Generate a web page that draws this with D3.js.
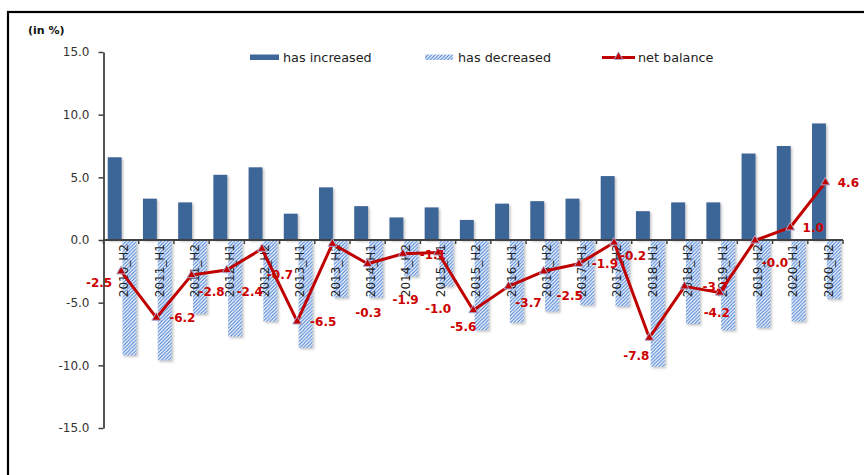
<!DOCTYPE html>
<html>
<head>
<meta charset="utf-8">
<script src="https://cdn.jsdelivr.net/npm/d3@7"></script>
<style>
  html, body { margin: 0; padding: 0; background: #fff; }
  svg { display: block; font-family: "DejaVu Sans", Verdana, sans-serif; }
</style>
</head>
<body>
<svg id="chart" width="864" height="475"></svg>
<script>
// ---- data ----
const categories = ["2010_H2","2011_H1","2011_H2","2012_H1","2012_H2","2013_H1","2013_H2",
  "2014_H1","2014_H2","2015_H1","2015_H2","2016_H1","2016_H2","2017_H1","2017_H2",
  "2018_H1","2018_H2","2019_H1","2019_H2","2020_H1","2020_H2"];
const hasIncreased = [6.6, 3.3, 3.0, 5.2, 5.8, 2.1, 4.2, 2.7, 1.8, 2.6, 1.6, 2.9, 3.1, 3.3, 5.1, 2.3, 3.0, 3.0, 6.9, 7.5, 9.3];
const hasDecreased = [-9.2, -9.6, -5.9, -7.7, -6.5, -8.6, -4.6, -4.6, -2.9, -3.7, -7.2, -6.6, -5.7, -5.2, -5.3, -10.1, -6.7, -7.2, -7.0, -6.5, -4.7];
const netBalance = [-2.5, -6.2, -2.8, -2.4, -0.7, -6.5, -0.3, -1.9, -1.1, -1.0, -5.6, -3.7, -2.5, -1.9, -0.2, -7.8, -3.7, -4.2, -0.04, 1.0, 4.6];
const yTicks = [-15, -10, -5, 0, 5, 10, 15];
const seriesNames = ["has increased", "has decreased", "net balance"];
const unitLabel = "(in %)";

// ---- layout (label nudges relative to each point, in px) ----
const labelNudge = [[-22,11],[26,0],[20,17],[23,22],[18,26],[26,0],[36,69],[38,36],[30,1],[0,56],
  [-10,16],[20,16],[26,24],[26,0],[19,13],[-13,18],[31,0],[-3,20],[20,22],[23,0],[23,0]];

const svg = d3.select("#chart");
const plotLeft = 103.5, plotRight = 843, plotTop = 52, plotBottom = 428;

const defs = svg.append("defs");
const pat = defs.append("pattern").attr("id", "hatch").attr("patternUnits", "userSpaceOnUse")
  .attr("width", 3.5).attr("height", 3.5);
pat.append("rect").attr("width", 3.5).attr("height", 3.5).attr("fill", "#ffffff");
pat.append("path").attr("d", "M-1,1 l2,-2 M0,3.5 l3.5,-3.5 M2.5,4.5 l2,-2")
  .attr("stroke", "#4f84d4").attr("stroke-width", 1.15);
const shadow = defs.append("filter").attr("id", "shadow").attr("x", "-20%").attr("y", "-20%")
  .attr("width", "150%").attr("height", "150%");
shadow.append("feDropShadow").attr("dx", 1.5).attr("dy", 1.5).attr("stdDeviation", 0.8)
  .attr("flood-color", "#777").attr("flood-opacity", 0.45);

// frame
svg.append("rect").attr("x", 8).attr("y", 12).attr("width", 900).attr("height", 500)
  .attr("fill", "none").attr("stroke", "#000").attr("stroke-width", 2.2);

const x = d3.scaleBand().domain(categories).range([plotLeft, plotRight]).padding(0);
const xs = d3.scaleBand().domain(["inc", "dec"]).range([0, x.bandwidth()])
  .paddingInner(0.06).paddingOuter(0.22).align(0.65);
const y = d3.scaleLinear().domain([-15, 15]).range([plotBottom, plotTop]);

// bars
const gBars = svg.append("g").attr("filter", "url(#shadow)");
gBars.selectAll("rect.inc").data(hasIncreased).join("rect").attr("class", "inc")
  .attr("x", (d, i) => x(categories[i]) + xs("inc"))
  .attr("width", xs.bandwidth())
  .attr("y", d => y(Math.max(0, d)))
  .attr("height", d => Math.abs(y(d) - y(0)))
  .attr("fill", "#3e6698");
gBars.selectAll("rect.dec").data(hasDecreased).join("rect").attr("class", "dec")
  .attr("x", (d, i) => x(categories[i]) + xs("dec"))
  .attr("width", xs.bandwidth())
  .attr("y", d => y(Math.max(0, d)))
  .attr("height", d => Math.abs(y(d) - y(0)))
  .attr("fill", "url(#hatch)");

// y axis
const yAxis = svg.append("g").attr("transform", `translate(${plotLeft},0)`)
  .call(d3.axisLeft(y).tickValues(yTicks).tickFormat(d => d.toFixed(1)).tickSize(5).tickSizeOuter(0).tickPadding(9));
yAxis.select(".domain").attr("stroke", "#404040").attr("stroke-width", 1.8);
yAxis.selectAll(".tick line").attr("stroke", "#404040").attr("stroke-width", 1.5);
yAxis.selectAll(".tick text").attr("fill", "#333").attr("font-size", 12)
  .attr("font-family", "'DejaVu Sans', Verdana, sans-serif");

// x axis at zero
const gx = svg.append("g").attr("transform", `translate(0,${y(0)})`);
gx.append("line").attr("x1", plotLeft).attr("x2", plotRight).attr("stroke", "#404040").attr("stroke-width", 1.8);
const bounds = categories.map(c => x(c)).concat([plotRight]);
gx.selectAll("line.tk").data(bounds).join("line").attr("class", "tk")
  .attr("x1", d => d).attr("x2", d => d).attr("y1", 0).attr("y2", 4)
  .attr("stroke", "#404040").attr("stroke-width", 1.5);
gx.selectAll("text").data(categories).join("text")
  .attr("transform", d => `translate(${x(d) + x.bandwidth() / 2 + 3},4) rotate(-90)`)
  .attr("text-anchor", "end").attr("dy", "0.35em")
  .attr("font-size", 12).attr("fill", "#222").text(d => d);

// net balance line
svg.append("path").datum(netBalance)
  .attr("d", d3.line().x((d, i) => x(categories[i]) + x.bandwidth() / 2).y(d => y(d)))
  .attr("fill", "none").attr("stroke", "#c00000").attr("stroke-width", 3).attr("stroke-linejoin", "round");
const tri = d3.symbol().type(d3.symbolTriangle).size(34);
svg.selectAll("path.mk").data(netBalance).join("path").attr("class", "mk")
  .attr("transform", (d, i) => `translate(${x(categories[i]) + x.bandwidth() / 2},${y(d)})`)
  .attr("d", tri).attr("fill", "#c00000").attr("stroke", "#a8acd4").attr("stroke-width", 1);

// data labels
const fmt = v => (v < 0 ? "-" : "") + Math.abs(v).toFixed(1);
svg.selectAll("text.dl").data(netBalance).join("text").attr("class", "dl")
  .attr("x", (d, i) => x(categories[i]) + x.bandwidth() / 2 + labelNudge[i][0])
  .attr("y", (d, i) => y(d) + labelNudge[i][1])
  .attr("dy", "0.36em").attr("text-anchor", "middle")
  .attr("font-size", 12).attr("font-weight", "bold").attr("fill", "#cc0000")
  .text(d => fmt(d));

// unit label
svg.append("text").attr("x", 28).attr("y", 34).attr("font-size", 11).attr("font-weight", "bold")
  .attr("fill", "#111").text(unitLabel);

// legend
const lg = svg.append("g").attr("font-size", 12.8).attr("fill", "#222");
lg.append("rect").attr("x", 250).attr("y", 54.5).attr("width", 29).attr("height", 5.5).attr("fill", "#3e6698");
lg.append("text").attr("x", 283).attr("y", 57).attr("dy", "0.36em").text(seriesNames[0]);
lg.append("rect").attr("x", 425).attr("y", 54.5).attr("width", 28).attr("height", 5.5).attr("fill", "url(#hatch)");
lg.append("text").attr("x", 458).attr("y", 57).attr("dy", "0.36em").text(seriesNames[1]);
lg.append("line").attr("x1", 602).attr("x2", 635).attr("y1", 57.5).attr("y2", 57.5)
  .attr("stroke", "#c00000").attr("stroke-width", 3);
lg.append("path").attr("transform", "translate(618.5,57)").attr("d", tri)
  .attr("fill", "#c00000").attr("stroke", "#a8acd4").attr("stroke-width", 1);
lg.append("text").attr("x", 638).attr("y", 57).attr("dy", "0.36em").text(seriesNames[2]);
</script>
</body>
</html>
